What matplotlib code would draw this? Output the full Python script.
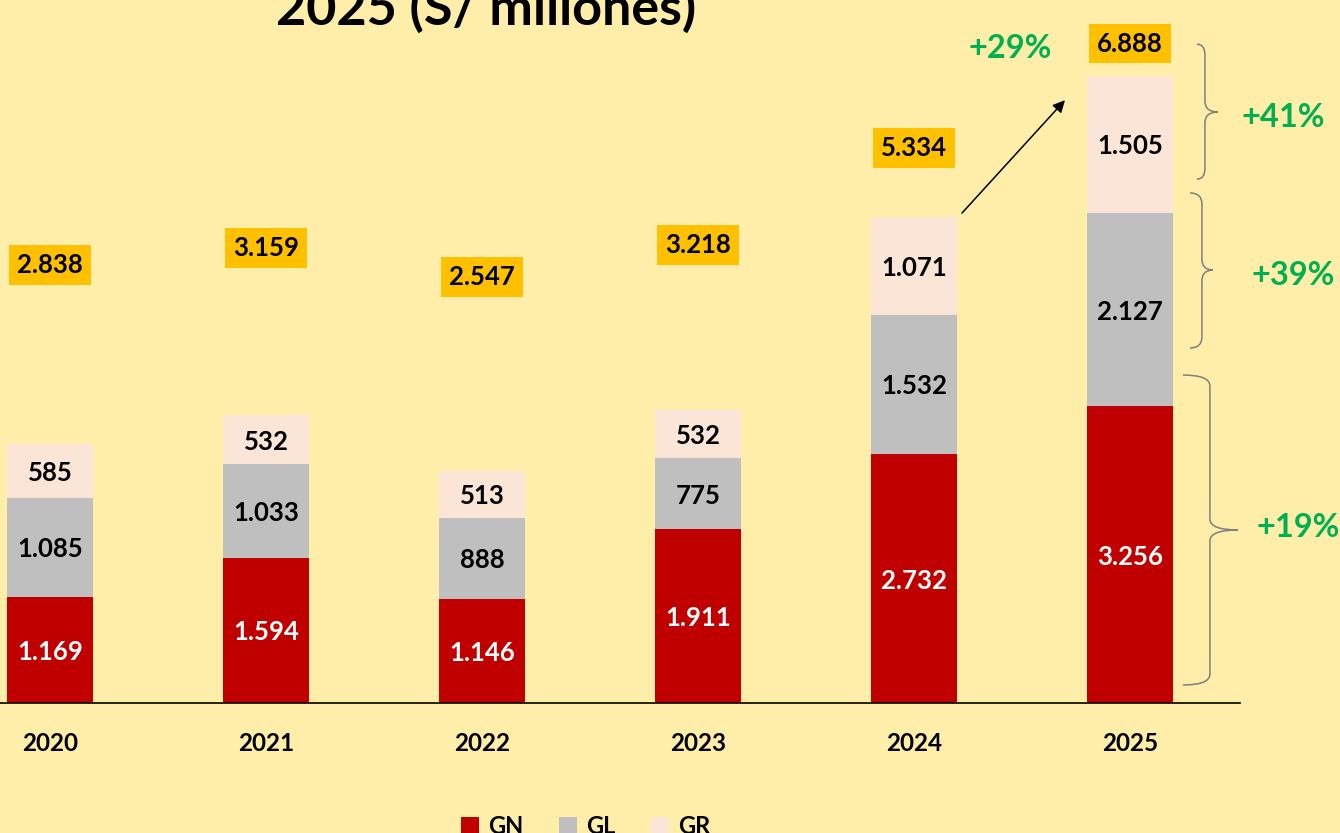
import matplotlib.pyplot as plt
from matplotlib.path import Path
from matplotlib.patches import PathPatch
import numpy as np

years = ['2020', '2021', '2022', '2023', '2024', '2025']
gn = [1169, 1594, 1146, 1911, 2732, 3256]
gl = [1085, 1033, 888, 775, 1532, 2127]
gr = [585, 532, 513, 532, 1071, 1505]
totals = [2838, 3159, 2547, 3218, 5334, 6888]
growth = ['+19%', '+39%', '+41%']
growth_total = '+29%'

# layout
total_label_y = [4830, 5016, 4698, 5049, 6116, 7263]
BG = '#FFEEAA'
C_GN, C_GL, C_GR = '#C00000', '#BFBFBF', '#FBE5D6'
GREEN = '#00B050'
FS = 18.5

plt.rcParams['font.family'] = ['Lato', 'DejaVu Sans']
plt.rcParams['font.weight'] = 'bold'


def fmt(v):
    return f"{v:,}".replace(",", ".")


fig = plt.figure(figsize=(13.4, 8.33), dpi=100, facecolor=BG)
ax = fig.add_axes([0, 1 - 703 / 833, 1240 / 1340, 703 / 833])
ax.set_facecolor(BG)

x = np.arange(len(years))
w = 86 / 216
gn_a, gl_a, gr_a = np.array(gn), np.array(gl), np.array(gr)
b1 = ax.bar(x, gn_a, w, color=C_GN, label='GN')
b2 = ax.bar(x, gl_a, w, bottom=gn_a, color=C_GL, label='GL')
b3 = ax.bar(x, gr_a, w, bottom=gn_a + gl_a, color=C_GR, label='GR')

ax.set_xlim(-50 / 216, 1190 / 216)
ax.set_ylim(0, 703 * 10.98)

for i in range(len(years)):
    ax.text(x[i], gn_a[i] / 2, fmt(gn[i]), ha='center', va='center_baseline',
            color='white', fontsize=FS, fontweight='bold')
    ax.text(x[i], gn_a[i] + gl_a[i] / 2, fmt(gl[i]), ha='center',
            va='center_baseline', color='black', fontsize=FS,
            fontweight='bold')
    ax.text(x[i], gn_a[i] + gl_a[i] + gr_a[i] / 2, fmt(gr[i]), ha='center',
            va='center_baseline', color='black', fontsize=FS,
            fontweight='bold')
    ax.text(x[i], total_label_y[i], fmt(totals[i]), ha='center',
            va='center_baseline', color='black', fontsize=FS,
            fontweight='bold',
            bbox=dict(boxstyle='square,pad=0.3', fc='#FFC000', ec='none'))

for s in ['top', 'right', 'left']:
    ax.spines[s].set_visible(False)
ax.spines['bottom'].set_color('black')
ax.spines['bottom'].set_linewidth(1.2)
ax.set_yticks([])
ax.set_xticks(x)
ax.set_xticklabels(years, fontsize=17.5, fontweight='bold')
ax.tick_params(axis='x', length=0, pad=21)


def brace(x0, x1, x2, ytop, ybot, ymid, r=120):
    verts = [(x0, ytop), (x1, ytop), (x1, ytop - r),
             (x1, ymid + r), (x1, ymid), (x2, ymid),
             (x1, ymid), (x1, ymid - r),
             (x1, ybot + r), (x1, ybot), (x0, ybot)]
    codes = [Path.MOVETO, Path.CURVE3, Path.CURVE3,
             Path.LINETO, Path.CURVE3, Path.CURVE3,
             Path.CURVE3, Path.CURVE3,
             Path.LINETO, Path.CURVE3, Path.CURVE3]
    p = PathPatch(Path(verts, codes), fc='none', ec='#7F7F7F', lw=1.1,
                  clip_on=False)
    ax.add_patch(p)


brace(5.245, 5.370, 5.500, 3601, 198, 1900)
brace(5.278, 5.333, 5.384, 5600, 3898, 4754)
brace(5.310, 5.347, 5.407, 7234, 5752, 6489)

GFS = 23.5
ax.text(5.778, 1932, growth[0], color=GREEN, fontsize=GFS, fontweight='bold',
        ha='center', va='center', clip_on=False)
ax.text(5.755, 4699, growth[1], color=GREEN, fontsize=GFS, fontweight='bold',
        ha='center', va='center', clip_on=False)
ax.text(5.708, 6434, growth[2], color=GREEN, fontsize=GFS, fontweight='bold',
        ha='center', va='center', clip_on=False)
ax.text(4.444, 7190, growth_total, color=GREEN, fontsize=GFS,
        fontweight='bold', ha='center', va='center')

ax.annotate('', xy=(4.699, 6619), xytext=(4.222, 5379),
            arrowprops=dict(arrowstyle='-|>', color='black', lw=1.1,
                            mutation_scale=18, shrinkA=0, shrinkB=0))

fig.text(486 / 1340, 1 - 25 / 833, '2025 (S/ millones)', ha='center',
         va='baseline', fontsize=37.5, fontweight='bold')

fig.legend(handles=[b1, b2, b3], loc='upper center',
           bbox_to_anchor=(586 / 1340, 1 - 794 / 833), ncol=3, frameon=False,
           handlelength=0.75, handleheight=0.75, columnspacing=1.5,
           handletextpad=0.4, prop={'weight': 'bold', 'size': 17})

fig.savefig('out.png', dpi=100, facecolor=BG)
